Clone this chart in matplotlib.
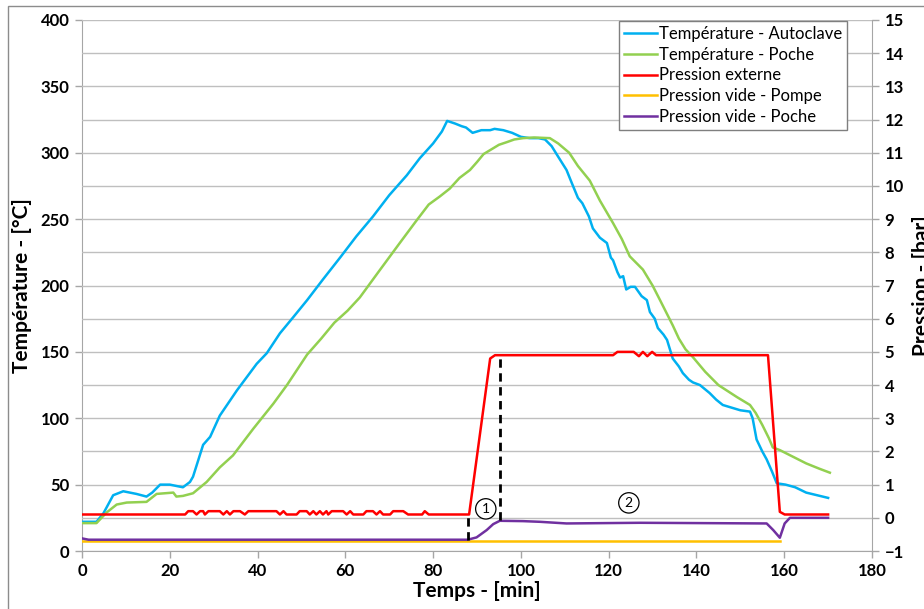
import matplotlib
matplotlib.use("Agg")
import matplotlib.pyplot as plt
from matplotlib.patches import Rectangle

plt.rcParams['font.family'] = ['Lato', 'DejaVu Sans']

# ---------------------------------------------------------------------------
# Donnees
# ---------------------------------------------------------------------------
# Temperature autoclave [°C]
ta_t = [0, 3.3, 4.9, 7.1, 9.4, 12.4, 14.7, 16, 17.8, 20, 23, 24.6, 25.3, 27.6, 29.2,
        31.4, 35.3, 39.8, 42.1, 45.1, 48.1, 51.3, 55, 58.8, 62.5, 66.3, 70, 74, 77,
        80, 82, 83.2, 85, 86.5, 87.5, 89, 90, 91, 93, 94, 96, 98, 100, 102, 104,
        105.5, 107, 108.5, 110.4, 111.5, 113, 114, 115.5, 116.4, 118, 119.6, 120.5,
        121, 122, 122.6, 123.3, 124, 125, 126, 127.5, 128.7, 129.4, 130.5, 131.2,
        132.5, 133.3, 134.6, 136, 136.9, 138.3, 139.2, 140.8, 143, 144.5, 146, 148,
        150, 152.2, 152.8, 153.7, 155, 156, 157.2, 158.3, 160.3, 162.5, 165, 167.5, 170]
ta_v = [22, 22, 28.5, 42, 45, 43, 41, 44, 50, 50, 48, 52, 56, 80, 86,
        102, 121, 141, 149, 164, 176, 189, 205, 221, 237, 252, 268, 283, 296,
        307, 316, 324, 322, 320, 319, 315, 316, 317, 317, 318, 317, 315, 312, 311, 311,
        310, 305, 297, 287, 278, 266, 262, 252, 243, 236, 232, 221,
        219, 210, 206, 207, 197, 199, 199, 192, 189, 180, 175, 168,
        163, 159, 145, 139, 134, 129, 127, 125, 119, 114, 110, 108,
        106, 105, 100, 84, 75, 69, 60, 51, 50, 48, 44, 42, 40]

# Temperature poche [°C]
tp_t = [0, 3.3, 5.6, 7.9, 10.2, 14.7, 17, 20.8, 21.5, 23, 25.3, 28.4, 31.4, 34.4, 39,
        43.6, 46.7, 51.3, 54.5, 57.5, 60.5, 63.3, 67.5, 72.4, 76, 79, 81.5, 83.8, 86,
        88.4, 90, 91.5, 93, 95, 96.8, 98.5, 100.5, 103, 106.6, 108.5, 111, 113, 115.7,
        118, 121, 123, 124.8, 127.8, 130, 131.7, 134.6, 136, 137.5, 139.2, 142, 145,
        149.2, 152.2, 153.5, 155, 156.5, 157.4, 159, 162, 165, 168, 170.4]
tp_v = [21, 21, 29, 35, 36.5, 37, 43, 44, 41, 41.5, 43.5, 52, 63, 72, 92,
        111, 125, 148, 160, 172, 181, 191, 210, 232, 248, 261, 267, 273, 281,
        287, 293, 299, 302, 306, 308, 310, 311, 311.5, 311, 307, 300, 290, 279,
        264, 247, 235, 222, 212, 200, 189, 170, 160, 152, 146, 135, 125,
        116, 110, 104, 95, 85, 78, 76, 71, 66, 62, 59]

# Pression externe [bar]
pe_t = [0, 23.5, 24.2, 25.3, 26.1, 26.9, 27.6, 28, 28.8, 31.4, 32.2, 33, 33.7, 34.5,
        36, 37.1, 37.9, 44.3, 45.1, 45.9, 46.6, 48.9, 49.6, 51.2, 51.9, 52.7, 53.4,
        54.2, 54.9, 55.7, 56.1, 56.9, 59.5, 60.3, 61.1, 61.8, 64.1, 64.8, 66.3, 67.1,
        67.9, 68.6, 70.2, 70.9, 73.2, 74.3, 77.5, 78.1, 79.0, 88.2, 93, 94.1, 121,
        122, 125.7, 126.9, 127.8, 128.8, 129.9, 130.8, 156.3, 159, 160.1, 170]
pe_v = [0.1, 0.1, 0.2, 0.2, 0.1, 0.2, 0.2, 0.1, 0.2, 0.2, 0.1, 0.2, 0.1, 0.2,
        0.2, 0.1, 0.2, 0.2, 0.1, 0.2, 0.1, 0.1, 0.2, 0.2, 0.1, 0.2, 0.1,
        0.2, 0.1, 0.2, 0.1, 0.2, 0.2, 0.1, 0.2, 0.1, 0.1, 0.2, 0.2, 0.1,
        0.2, 0.1, 0.1, 0.2, 0.2, 0.1, 0.1, 0.2, 0.1, 0.1, 4.8, 4.9, 4.9,
        5.0, 5.0, 4.87, 5.0, 4.87, 5.0, 4.9, 4.9, 0.18, 0.1, 0.1]

# Pression vide - pompe [bar]
pp_t = [0, 159]
pp_v = [-0.7, -0.7]

# Pression vide - poche [bar]
pv_t = [0, 1.5, 87.9, 89.9, 92.2, 93.7, 95.2, 100.5, 104.3, 110.4, 127.1, 156,
        157.5, 159, 160.1, 161.3, 170]
pv_v = [-0.62, -0.66, -0.66, -0.59, -0.37, -0.19, -0.09, -0.1, -0.12, -0.17, -0.15, -0.17,
        -0.37, -0.6, -0.17, 0.0, 0.0]

# Reperes (traits pointilles et numeros)
rep_t = [87.9, 95.3]
rep_lo = [-0.68, -0.08]
rep_hi = [0.1, 4.9]
num_t = [92.0, 124.6]
num_p = [0.27, 0.45]
num_txt = ["1", "2"]

# ---------------------------------------------------------------------------
# Figure
# ---------------------------------------------------------------------------
fig = plt.figure(figsize=(9.24, 6.09), dpi=100)
ax = fig.add_axes([82 / 924, 1 - 551 / 609, 790 / 924, 531 / 609])
ax2 = ax.twinx()

GRID = "#bfbfbf"
SPINE = "#a6a6a6"

ax.set_xlim(0, 180)
ax.set_ylim(0, 400)
ax2.set_ylim(-1, 15)
ax.set_xticks(range(0, 181, 20))
ax.set_yticks(range(0, 401, 50))
ax2.set_yticks(range(-1, 16, 1))

# grille horizontale tous les 1 bar (= 25 °C)
for g in range(-1, 16):
    ax2.axhline(g, color=GRID, lw=1, zorder=0)

for a in (ax, ax2):
    a.spines["top"].set_visible(False)
    for s in ("left", "right", "bottom"):
        a.spines[s].set_color(SPINE)
    a.tick_params(colors=SPINE, length=5, width=1, direction="out", pad=4)
ax.spines["right"].set_visible(False)
ax2.spines["left"].set_visible(False)
ax2.spines["bottom"].set_visible(False)

for lab in ax.get_xticklabels() + ax.get_yticklabels() + ax2.get_yticklabels():
    lab.set_fontweight("bold")
    lab.set_fontsize(12)
    lab.set_color("black")

lw = 1.8
h1, = ax2.plot(ta_t, [v / 25 - 1 for v in ta_v], color="#00B0F0", lw=lw, label="Température - Autoclave")
h2, = ax2.plot(tp_t, [v / 25 - 1 for v in tp_v], color="#92D050", lw=lw, label="Température - Poche")
h3, = ax2.plot(pe_t, pe_v, color="#FF0000", lw=lw, label="Pression externe")
h4, = ax2.plot(pp_t, pp_v, color="#FFC000", lw=lw, label="Pression vide - Pompe")
h5, = ax2.plot(pv_t, pv_v, color="#7030A0", lw=lw, label="Pression vide - Poche")

ax2.vlines(rep_t, rep_lo, rep_hi, colors="black", linestyles=(0, (3, 2)), lw=2, zorder=4)
for t, p, s in zip(num_t, num_p, num_txt):
    ax2.text(t, p, s, ha="center", va="center", fontsize=10,
             bbox=dict(boxstyle="circle,pad=0.3", fc="white", ec="black", lw=0.9), zorder=5)

ax.set_xlabel("Temps - [min]", fontsize=15, fontweight="bold", labelpad=1)
ax.set_ylabel("Température - [°C]", fontsize=15, fontweight="bold", labelpad=6)
ax2.set_ylabel("Pression - [bar]", fontsize=15, fontweight="bold", rotation=90, labelpad=6)

leg = ax2.legend(handles=[h1, h2, h3, h4, h5], loc="upper right",
                 bbox_to_anchor=(847 / 924, 1 - 21 / 609), bbox_transform=fig.transFigure,
                 borderaxespad=0, fontsize=12, fancybox=False, framealpha=1,
                 edgecolor="#7f7f7f", handlelength=2.0, handletextpad=0.1,
                 labelspacing=0.28, borderpad=0.3)
leg.get_frame().set_linewidth(1)
leg.set_zorder(10)

# cadre exterieur du graphique
fig.patches.append(Rectangle((8 / 924, -0.05), 1.2, 1.05 - 6 / 609, transform=fig.transFigure,
                             fill=False, ec="#8c8c8c", lw=1))

fig.savefig("out.png", dpi=100)
